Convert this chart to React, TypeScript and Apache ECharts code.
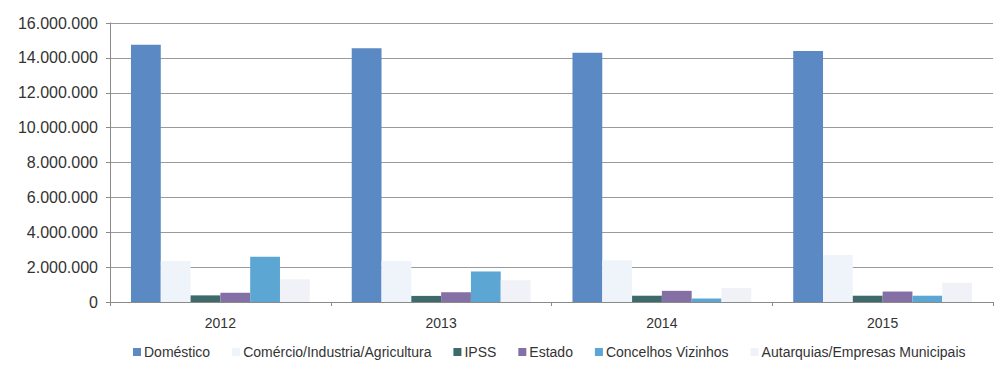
import React, { useEffect, useRef } from "react";
import * as echarts from "echarts";

const years = ["2012", "2013", "2014", "2015"];
const domestico = [14750000, 14550000, 14300000, 14400000];
const comercio = [2350000, 2350000, 2400000, 2700000];
const ipss = [380000, 350000, 360000, 360000];
const estado = [530000, 560000, 640000, 600000];
const concelhos = [2600000, 1750000, 200000, 360000];
const autarquias = [1300000, 1250000, 800000, 1100000];

const seriesNames = [
  "Doméstico",
  "Comércio/Industria/Agricultura",
  "IPSS",
  "Estado",
  "Concelhos Vizinhos",
  "Autarquias/Empresas Municipais",
];
const seriesData = [domestico, comercio, ipss, estado, concelhos, autarquias];
const seriesColors = ["#5A89C4", "#EFF3FA", "#3E6A6C", "#8570A6", "#5BA6D2", "#F0F2F8"];

const fmt = (v: number) => String(v).replace(/\B(?=(\d{3})+(?!\d))/g, ".");

export default function App() {
  const ref = useRef<HTMLDivElement>(null);
  useEffect(() => {
    document.body.style.margin = "0";
    const chart = echarts.init(ref.current!, null, { renderer: "svg" });
    const font = "Arial, 'Liberation Sans', sans-serif";
    chart.setOption({
      animation: false,
      backgroundColor: "#ffffff",
      grid: { left: 110, right: 1, top: 23, bottom: 67 },
      legend: {
        bottom: 5,
        left: 128,
        itemWidth: 8,
        itemHeight: 8,
        itemGap: 22,
        icon: "rect",
        textStyle: { fontFamily: font, fontSize: 14, color: "#333", padding: [0, 0, 0, -2] },
        data: seriesNames,
      },
      xAxis: {
        type: "category",
        data: years,
        axisLine: { lineStyle: { color: "#8a8a8a" } },
        axisTick: { show: true, length: 4, lineStyle: { color: "#8a8a8a" } },
        axisLabel: { fontFamily: font, fontSize: 14, color: "#333", margin: 14 },
      },
      yAxis: {
        type: "value",
        min: 0,
        max: 16000000,
        interval: 2000000,
        axisLine: { show: true, lineStyle: { color: "#8a8a8a" } },
        axisTick: { show: true, length: 4, lineStyle: { color: "#8a8a8a" } },
        splitLine: { lineStyle: { color: "#9a9a9a" } },
        axisLabel: {
          fontFamily: font,
          fontSize: 16,
          color: "#333",
          margin: 12,
          formatter: (v: number) => fmt(v),
        },
      },
      series: seriesNames.map((name, i) => ({
        name,
        type: "bar",
        data: seriesData[i],
        barGap: "0%",
        barCategoryGap: "19%",
        itemStyle: { color: seriesColors[i] },
      })),
    });
    return () => chart.dispose();
  }, []);
  return <div ref={ref} style={{ width: 994, height: 369 }} />;
}
